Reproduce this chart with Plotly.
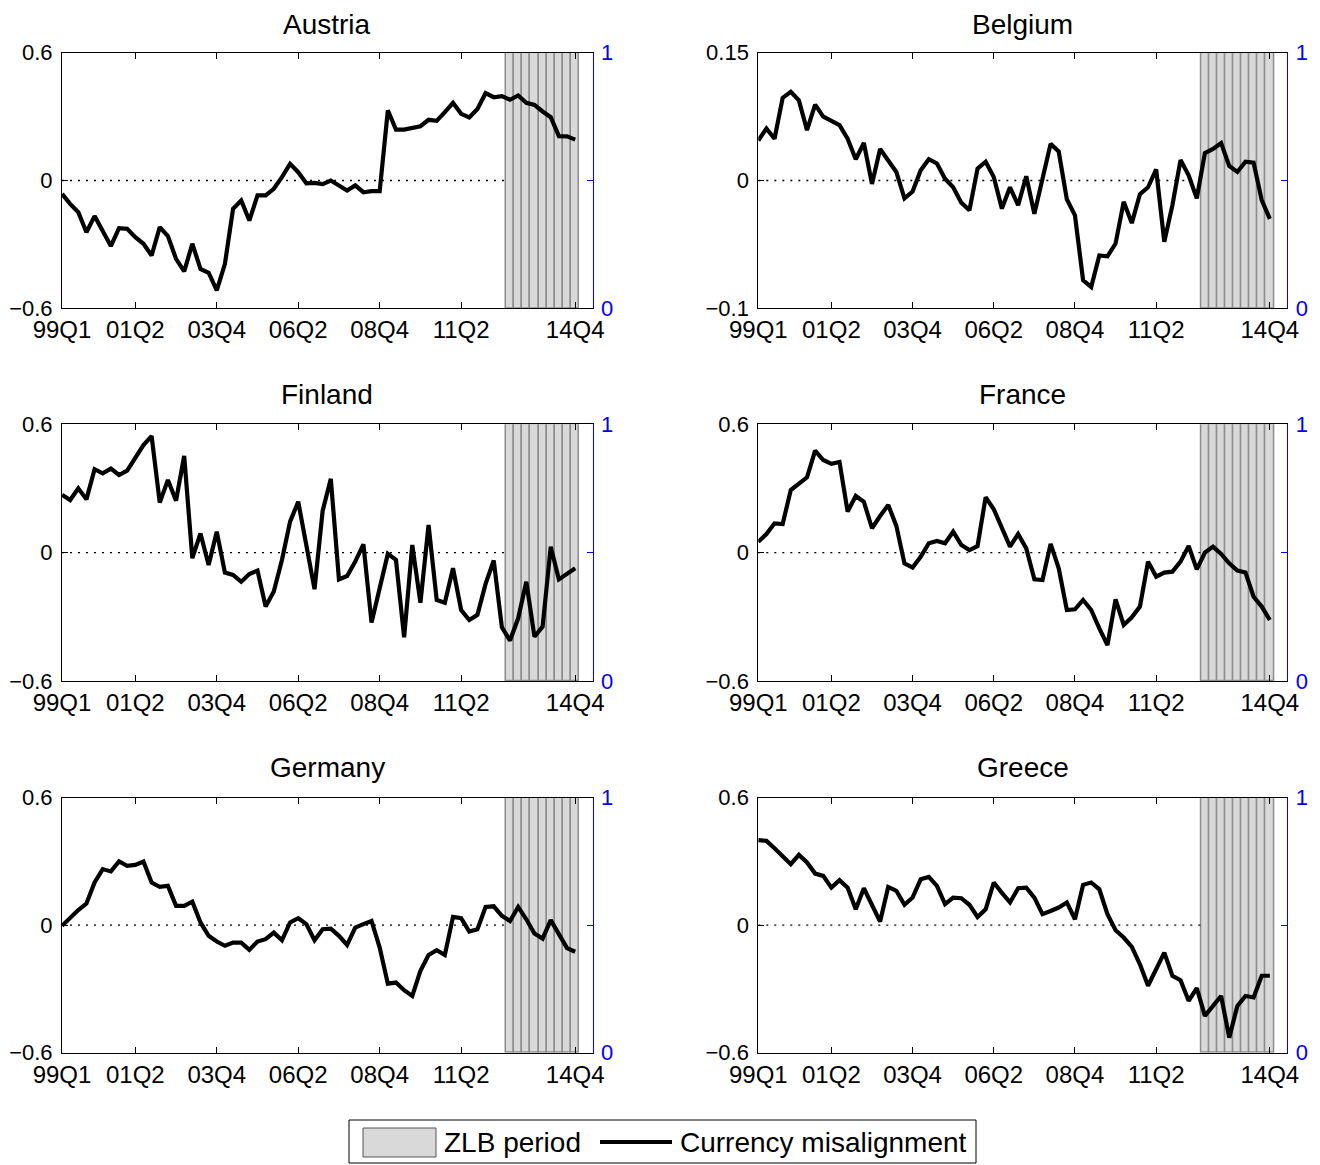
import plotly.graph_objects as go

W, H = 1320, 1165

# Quarterly sample 1999Q1 - 2014Q4
quarters = [f"{(1999 + i // 4) % 100:02d}Q{i % 4 + 1}" for i in range(64)]
tick_labels = ["99Q1", "01Q2", "03Q4", "06Q2", "08Q4", "11Q2", "14Q4"]

# Zero-lower-bound quarters (indicator on the right-hand 0-1 axis)
zlb_quarters = ["12Q4", "13Q1", "13Q2", "13Q3", "13Q4", "14Q1", "14Q2", "14Q3", "14Q4"]
zlb_flag = [1, 1, 1, 1, 1, 1, 1, 1, 1]

# Currency misalignment by country
austria = [-0.063, -0.110, -0.149, -0.243, -0.167, -0.243, -0.308, -0.224, -0.227, -0.266,
           -0.297, -0.352, -0.219, -0.261, -0.368, -0.427, -0.297, -0.415, -0.433, -0.516,
           -0.391, -0.133, -0.094, -0.188, -0.070, -0.070, -0.039, 0.016, 0.078, 0.039,
           -0.013, -0.011, -0.017, 0.000, -0.023, -0.047, -0.023, -0.055, -0.050, -0.050,
           0.329, 0.239, 0.239, 0.246, 0.255, 0.285, 0.280, 0.321, 0.365, 0.313,
           0.296, 0.336, 0.410, 0.391, 0.396, 0.379, 0.399, 0.365, 0.355, 0.324,
           0.297, 0.208, 0.207, 0.192]
belgium = [0.047, 0.061, 0.049, 0.097, 0.104, 0.094, 0.059, 0.089, 0.075, 0.070,
           0.065, 0.049, 0.025, 0.044, -0.004, 0.037, 0.023, 0.010, -0.021, -0.013,
           0.012, 0.025, 0.020, 0.002, -0.008, -0.026, -0.035, 0.014, 0.022, 0.004,
           -0.033, -0.008, -0.029, 0.005, -0.039, 0.000, 0.043, 0.034, -0.022, -0.041,
           -0.117, -0.125, -0.088, -0.089, -0.074, -0.025, -0.050, -0.016, -0.008, 0.013,
           -0.072, -0.029, 0.024, 0.006, -0.021, 0.032, 0.037, 0.044, 0.017, 0.010,
           0.022, 0.021, -0.023, -0.045]
finland = [0.270, 0.246, 0.301, 0.249, 0.390, 0.371, 0.393, 0.363, 0.383, 0.441,
           0.503, 0.545, 0.234, 0.340, 0.243, 0.452, -0.026, 0.090, -0.058, 0.098,
           -0.093, -0.104, -0.136, -0.100, -0.084, -0.252, -0.182, -0.034, 0.145, 0.238,
           0.040, -0.171, 0.196, 0.345, -0.125, -0.109, -0.042, 0.039, -0.327, -0.167,
           -0.006, -0.034, -0.396, 0.036, -0.234, 0.129, -0.221, -0.234, -0.073, -0.268,
           -0.315, -0.291, -0.146, -0.037, -0.349, -0.411, -0.307, -0.136, -0.393, -0.346,
           0.028, -0.125, -0.097, -0.073]
france = [0.051, 0.087, 0.137, 0.134, 0.293, 0.324, 0.352, 0.477, 0.433, 0.415,
          0.424, 0.192, 0.265, 0.238, 0.114, 0.171, 0.223, 0.125, -0.050, -0.070,
          -0.019, 0.044, 0.055, 0.044, 0.098, 0.036, 0.012, 0.031, 0.259, 0.203,
          0.114, 0.028, 0.087, 0.020, -0.125, -0.128, 0.041, -0.073, -0.268, -0.265,
          -0.221, -0.268, -0.354, -0.432, -0.218, -0.338, -0.302, -0.252, -0.042, -0.112,
          -0.093, -0.089, -0.042, 0.031, -0.078, 0.000, 0.028, -0.006, -0.050, -0.084,
          -0.093, -0.206, -0.252, -0.315]
germany = [-0.003, 0.036, 0.071, 0.102, 0.201, 0.264, 0.253, 0.300, 0.279, 0.284,
           0.300, 0.201, 0.180, 0.185, 0.091, 0.091, 0.111, 0.013, -0.050, -0.077,
           -0.097, -0.082, -0.082, -0.116, -0.077, -0.066, -0.035, -0.071, 0.013, 0.033,
           0.005, -0.071, -0.019, -0.016, -0.050, -0.093, -0.011, 0.005, 0.020, -0.105,
           -0.275, -0.270, -0.306, -0.333, -0.215, -0.140, -0.118, -0.140, 0.039, 0.033,
           -0.030, -0.019, 0.086, 0.089, 0.044, 0.020, 0.086, 0.028, -0.039, -0.063,
           0.024, -0.042, -0.108, -0.125]
greece = [0.400, 0.397, 0.362, 0.326, 0.287, 0.331, 0.295, 0.243, 0.232, 0.177,
          0.212, 0.177, 0.075, 0.174, 0.096, 0.017, 0.180, 0.162, 0.096, 0.130,
          0.216, 0.227, 0.185, 0.099, 0.130, 0.127, 0.096, 0.039, 0.075, 0.201,
          0.152, 0.107, 0.174, 0.177, 0.130, 0.052, 0.067, 0.083, 0.107, 0.028,
          0.190, 0.201, 0.169, 0.052, -0.024, -0.058, -0.102, -0.184, -0.285, -0.207,
          -0.129, -0.238, -0.259, -0.356, -0.296, -0.427, -0.380, -0.333, -0.529, -0.380,
          -0.333, -0.340, -0.238, -0.238]

countries = ["Austria", "Belgium", "Finland", "France", "Germany", "Greece"]
series = [austria, belgium, finland, france, germany, greece]
left_tickvals = [[-0.6, 0, 0.6], [-0.15, 0, 0.15], [-0.6, 0, 0.6],
                 [-0.6, 0, 0.6], [-0.6, 0, 0.6], [-0.6, 0, 0.6]]
left_ticktext = [["\u22120.6", "0", "0.6"], ["\u22120.1", "0", "0.15"], ["\u22120.6", "0", "0.6"],
                 ["\u22120.6", "0", "0.6"], ["\u22120.6", "0", "0.6"], ["\u22120.6", "0", "0.6"]]

FONT = "Liberation Sans, Arial, Helvetica, sans-serif"
BLUE = "#0000ff"
ZLB_FILL = "#d9d9d9"
ZLB_EDGE = "#8c8c8c"

# Subplot boxes in pixels (left, right) / (top, bottom)
cols = [(62.0, 592.7), (758.3, 1287.3)]
rows = [(52.7, 308.3), (424.3, 681.0), (797.7, 1052.7)]
title_y = [24.0, 395.0, 767.5]


def px_x(p):
    return p / W


def px_y(p):
    return 1 - p / H


xpos = list(range(len(quarters)))
tick_pos = [quarters.index(t) for t in tick_labels]
zlb_pos = [quarters.index(q) for q in zlb_quarters]
zlb_start = zlb_pos[0] - 0.5

fig = go.Figure()
layout = dict(
    width=W, height=H,
    margin=dict(l=0, r=0, t=0, b=0, autoexpand=False),
    paper_bgcolor="white", plot_bgcolor="white",
    showlegend=False,
    bargap=0,
    font=dict(family=FONT, color="black"),
)
annotations = []
shapes = []

for k, (name, vals) in enumerate(zip(countries, series)):
    r, c = divmod(k, 2)
    xl, xr = cols[c]
    yt, yb = rows[r]
    xa = "x" if k == 0 else f"x{k + 1}"
    ybase = "y" if k == 0 else f"y{2 * k + 1}"   # right-hand 0-1 axis (ZLB bars)
    yleft = f"y{2 * k + 2}"                       # left-hand misalignment axis

    fig.add_trace(go.Bar(
        x=zlb_pos, y=zlb_flag, width=1,
        marker=dict(color=ZLB_FILL, line=dict(color=ZLB_EDGE, width=1.5)),
        xaxis=xa, yaxis=ybase, hoverinfo="skip",
    ))
    fig.add_trace(go.Scatter(
        x=[0, zlb_start], y=[0, 0], mode="lines",
        line=dict(color="black", width=1.3, dash="2px,6px"),
        xaxis=xa, yaxis=yleft, hoverinfo="skip",
    ))
    fig.add_trace(go.Scatter(
        x=xpos, y=vals, mode="lines",
        line=dict(color="black", width=4.2),
        xaxis=xa, yaxis=yleft, name=name,
    ))

    layout["xaxis" + ("" if k == 0 else str(k + 1))] = dict(
        domain=[px_x(xl), px_x(xr)], range=[0, 65.15],
        anchor=ybase, automargin=False,
        tickmode="array", tickvals=tick_pos, ticktext=tick_labels,
        ticks="inside", ticklen=6, tickcolor="black",
        showline=True, linecolor="black", linewidth=1, mirror="ticks",
        showgrid=False, zeroline=False,
        tickfont=dict(size=24, family=FONT, color="black"),
        ticklabelstandoff=0,
    )
    layout["yaxis" + ("" if k == 0 else str(2 * k + 1))] = dict(
        domain=[px_y(yb), px_y(yt)], range=[0, 1],
        anchor=xa, side="right", automargin=False,
        tickmode="array", tickvals=[0, 0.5, 1], ticktext=["0", "", "1"],
        ticks="inside", ticklen=6, tickcolor=BLUE,
        showline=True, linecolor=BLUE, linewidth=1,
        showgrid=False, zeroline=False,
        tickfont=dict(size=22, family=FONT, color=BLUE),
        ticklabelstandoff=3,
    )
    layout["yaxis" + str(2 * k + 2)] = dict(
        overlaying=ybase, side="left", anchor=xa, automargin=False,
        range=[left_tickvals[k][0], left_tickvals[k][-1]],
        tickmode="array", tickvals=left_tickvals[k], ticktext=left_ticktext[k],
        ticks="inside", ticklen=6, tickcolor="black",
        showline=True, linecolor="black", linewidth=1,
        showgrid=False, zeroline=False,
        tickfont=dict(size=22, family=FONT, color="black"),
        ticklabelstandoff=4,
    )
    annotations.append(dict(
        text=name, x=px_x((xl + xr) / 2), y=px_y(title_y[r]),
        xref="paper", yref="paper", xanchor="center", yanchor="middle",
        showarrow=False, font=dict(size=28, family=FONT, color="black"),
    ))

# Legend drawn below the panels
shapes.append(dict(type="rect", xref="paper", yref="paper",
                   x0=px_x(349), x1=px_x(976), y0=px_y(1163), y1=px_y(1120),
                   line=dict(color="black", width=1), fillcolor="white"))
shapes.append(dict(type="rect", xref="paper", yref="paper",
                   x0=px_x(363), x1=px_x(436), y0=px_y(1157), y1=px_y(1128),
                   line=dict(color="#555555", width=1), fillcolor=ZLB_FILL))
shapes.append(dict(type="line", xref="paper", yref="paper",
                   x0=px_x(600), x1=px_x(672), y0=px_y(1142), y1=px_y(1142),
                   line=dict(color="black", width=4)))
annotations.append(dict(text="ZLB period", x=px_x(442), y=px_y(1142),
                        xref="paper", yref="paper", xanchor="left", yanchor="middle",
                        showarrow=False, font=dict(size=28, family=FONT, color="black")))
annotations.append(dict(text="Currency misalignment", x=px_x(678), y=px_y(1142),
                        xref="paper", yref="paper", xanchor="left", yanchor="middle",
                        showarrow=False, font=dict(size=28, family=FONT, color="black")))

layout["annotations"] = annotations
layout["shapes"] = shapes
fig.update_layout(**layout)

fig.write_html("out.html")
